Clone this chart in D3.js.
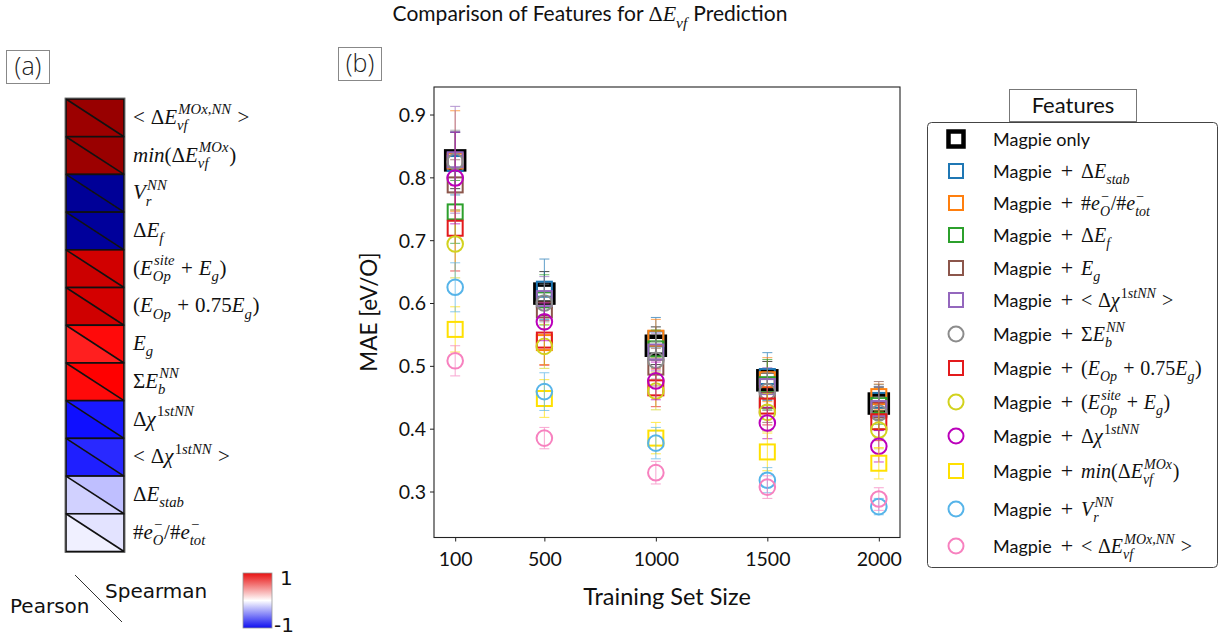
<!DOCTYPE html>
<html>
<head>
<meta charset="utf-8">
<script src="https://cdn.jsdelivr.net/npm/d3@7"></script>
<style>
  html, body { margin: 0; padding: 0; background: #fff; }
  svg text { white-space: pre; }
</style>
</head>
<body>
<svg id="fig" width="1223" height="637"></svg>
<script>
// ---------- data ----------
const trainSizes = [100, 500, 1000, 1500, 2000];

// mean absolute error per training-set size, and its spread (one std)
const maeMagpie    = [0.827, 0.615, 0.532, 0.477, 0.440];
const sdMagpie     = [0.045, 0.035, 0.030, 0.030, 0.025];
const maeStab      = [0.822, 0.622, 0.543, 0.483, 0.445];
const sdStab       = [0.050, 0.048, 0.034, 0.038, 0.025];
const maeEratio    = [0.826, 0.537, 0.544, 0.478, 0.451];
const sdEratio     = [0.080, 0.035, 0.030, 0.035, 0.020];
const maeEf        = [0.745, 0.605, 0.527, 0.470, 0.437];
const sdEf         = [0.050, 0.040, 0.030, 0.040, 0.030];
const maeEg        = [0.788, 0.589, 0.498, 0.445, 0.430];
const sdEg         = [0.040, 0.030, 0.030, 0.035, 0.045];
const maeChiMean   = [0.828, 0.607, 0.522, 0.467, 0.432];
const sdChiMean    = [0.085, 0.035, 0.030, 0.030, 0.035];
const maeEbSum     = [0.825, 0.600, 0.509, 0.459, 0.425];
const sdEbSum      = [0.050, 0.030, 0.030, 0.030, 0.025];
const maeEopLin    = [0.719, 0.541, 0.465, 0.436, 0.411];
const sdEopLin     = [0.068, 0.040, 0.030, 0.030, 0.030];
const maeEopSite   = [0.694, 0.531, 0.460, 0.426, 0.398];
const sdEopSite    = [0.054, 0.035, 0.030, 0.030, 0.030];
const maeChi       = [0.799, 0.570, 0.476, 0.409, 0.372];
const sdChi        = [0.073, 0.030, 0.030, 0.025, 0.025];
const maeMinEvf    = [0.558, 0.448, 0.385, 0.363, 0.345];
const sdMinEvf     = [0.036, 0.030, 0.025, 0.030, 0.025];
const maeVr        = [0.625, 0.459, 0.377, 0.318, 0.276];
const sdVr         = [0.039, 0.030, 0.025, 0.020, 0.013];
const maeEvfNN     = [0.508, 0.385, 0.330, 0.307, 0.288];
const sdEvfNN      = [0.024, 0.017, 0.018, 0.018, 0.018];

const seriesLabels = [
  null, "ΔE_{stab}", "#e_{O}^{−}/#e_{tot}^{−}", "ΔE_{f}", "E_{g}", "< Δχ^{1stNN} >",
  "ΣE_{b}^{NN}", "(E_{Op} + 0.75E_{g})", "(E_{Op}^{site} + E_{g})", "Δχ^{1stNN}",
  "min(ΔE_{vf}^{MOx})", "V_{r}^{NN}", "< ΔE_{vf}^{MOx,NN} >"
];
const seriesColors = ["#000000", "#1f77b4", "#ff7f0e", "#2ca02c", "#8c564b", "#9467bd",
  "#8c8c8c", "#e31a1c", "#d2d21e", "#bb00bb", "#ffe000", "#56b4e9", "#f781bf"];
const seriesShapes = ["square", "square", "square", "square", "square", "square",
  "circle", "square", "circle", "circle", "square", "circle", "circle"];

// correlation of each feature with the vacancy formation energy
const corrFeatures = [
  "< ΔE_{vf}^{MOx,NN} >", "min(ΔE_{vf}^{MOx})", "V_{r}^{NN}", "ΔE_{f}",
  "(E_{Op}^{site} + E_{g})", "(E_{Op} + 0.75E_{g})", "E_{g}", "ΣE_{b}^{NN}",
  "Δχ^{1stNN}", "< Δχ^{1stNN} >", "ΔE_{stab}", "#e_{O}^{−}/#e_{tot}^{−}"
];
const pearsonR  = [0.89, 0.89, -0.79, -0.78, 0.70, 0.69, 0.44, 0.48, -0.47, -0.44, -0.09, -0.03];
const spearmanR = [0.905, 0.90, -0.79, -0.78, 0.68, 0.67, 0.48, 0.50, -0.45, -0.42, -0.125, -0.055];
const colorbarTicks = ["1", "-1"];

const xTicks = [100, 500, 1000, 1500, 2000];
const yTicks = [0.3, 0.4, 0.5, 0.6, 0.7, 0.8, 0.9];

// ---------- fonts & text helpers ----------
const SANS = "Lato, 'DejaVu Sans', sans-serif";
const SERIF = "'Liberation Serif', 'DejaVu Serif', serif";
const svg = d3.select("#fig");

function putText(g, str, x, y, size, family, style) {
  const t = g.append("text").attr("x", x).attr("y", y)
    .attr("font-family", family).attr("font-size", size)
    .attr("font-style", style || "normal").attr("fill", "#111")
    .attr("xml:space", "preserve").text(str);
  return x + t.node().getComputedTextLength();
}

// tiny math renderer: italic latin/greek-lowercase letters, _{} and ^{} scripts
function parseMath(str) {
  const items = [];
  let i = 0;
  const readArg = () => {
    if (str[i] === "{") {
      let depth = 1, j = i + 1;
      while (j < str.length && depth > 0) { if (str[j] === "{") depth++; if (str[j] === "}") depth--; j++; }
      const a = str.slice(i + 1, j - 1); i = j; return a;
    }
    const a = str[i]; i++; return a;
  };
  while (i < str.length) {
    const ch = str[i];
    if (ch === "_" || ch === "^") {
      i++;
      const arg = readArg();
      let last = items[items.length - 1];
      const key = ch === "_" ? "sub" : "sup";
      if (!last || last.kind !== "script" || last[key] != null) { last = { kind: "script", sub: null, sup: null }; items.push(last); }
      last[key] = arg;
    } else { items.push({ kind: "char", ch }); i++; }
  }
  return items;
}
function isItalic(ch) { return /[A-Za-z\u03b1-\u03c9]/.test(ch); }
function runChars(g, str, x, y, size) {
  for (const ch of str) {
    if (ch === " ") { x += size * 0.28; continue; }
    x = putText(g, ch, x, y, size, SERIF, isItalic(ch) ? "italic" : "normal");
  }
  return x;
}
function drawMath(g, str, x, y, size) {
  const items = parseMath(str);
  let prevItalic = false;
  for (const it of items) {
    if (it.kind === "char") {
      x = runChars(g, it.ch, x, y, size);
      prevItalic = isItalic(it.ch);
    } else {
      const s = size * 0.7;
      let w = 0;
      if (it.sub != null) w = Math.max(w, runChars(g, it.sub, x, y + size * 0.3, s) - x);
      if (it.sup != null) {
        const sx = x + (prevItalic ? size * 0.06 : 0);
        w = Math.max(w, runChars(g, it.sup, sx, y - size * 0.45, s) - x);
      }
      x += w + size * 0.03;
    }
  }
  return x;
}
function richText(parent, parts, x, y, size, mathSize, anchor) {
  const g = parent.append("g");
  let cx = 0;
  parts.forEach(p => {
    if (p.sans != null) cx = putText(g, p.sans, cx, 0, size, SANS);
    else if (p.gap != null) cx += p.gap;
    else if (p.plus) cx = putText(g, "+", cx, 0, mathSize * 1.1, SERIF);
    else cx = drawMath(g, p.math, cx, 0, mathSize);
  });
  const ox = anchor === "middle" ? x - cx / 2 : x;
  g.attr("transform", `translate(${ox},${y})`);
  return g;
}

// ---------- title ----------
richText(svg, [{ sans: "Comparison of Features for " }, { math: "ΔE_{vf}" }, { sans: " Prediction" }],
  590, 21, 21, 22, "middle");

// ---------- panel labels ----------
function panelTag(x, y, w, h, label) {
  svg.append("rect").attr("x", x).attr("y", y).attr("width", w).attr("height", h)
    .attr("fill", "#fff").attr("stroke", "#888").attr("stroke-width", 1);
  svg.append("text").attr("x", x + w / 2).attr("y", y + h / 2 + 8)
    .attr("text-anchor", "middle").attr("font-family", "'Open Sans', sans-serif")
    .attr("font-weight", 300).attr("font-size", 25).attr("fill", "#222").text(label);
}
panelTag(6.5, 50.5, 43, 33, "(a)");
panelTag(338.5, 47.5, 43, 33, "(b)");

// ---------- panel (a): correlation column ----------
const seismic = d3.scaleLinear().domain([-1, -0.5, 0, 0.5, 1])
  .range(["#00004c", "#0000ff", "#ffffff", "#ff0000", "#800000"]);
const rowBand = d3.scaleBand().domain(d3.range(corrFeatures.length)).range([99, 551.5]);
const cx0 = 66, cx1 = 124;
const heat = svg.append("g");
corrFeatures.forEach((f, i) => {
  const y0 = rowBand(i), y1 = y0 + rowBand.bandwidth();
  heat.append("path").attr("d", `M${cx0},${y0}L${cx0},${y1}L${cx1},${y1}Z`).attr("fill", seismic(pearsonR[i]));
  heat.append("path").attr("d", `M${cx0},${y0}L${cx1},${y0}L${cx1},${y1}Z`).attr("fill", seismic(spearmanR[i]));
  heat.append("rect").attr("x", cx0).attr("y", y0).attr("width", cx1 - cx0).attr("height", y1 - y0)
    .attr("fill", "none").attr("stroke", "#111").attr("stroke-width", 1.6);
  heat.append("line").attr("x1", cx0).attr("y1", y0).attr("x2", cx1).attr("y2", y1)
    .attr("stroke", "#111").attr("stroke-width", 1.6);
  const lg = heat.append("g");
  drawMath(lg, f, 0, 0, 21);
  lg.attr("transform", `translate(133,${(y0 + y1) / 2 + 6})`);
});
heat.append("rect").attr("x", cx0 - 1).attr("y", 98).attr("width", cx1 - cx0 + 2).attr("height", 554.5 - 98 - 2)
  .attr("fill", "none").attr("stroke", "#555").attr("stroke-width", 0.8);

// Pearson / Spearman key
svg.append("line").attr("x1", 75).attr("y1", 575).attr("x2", 122).attr("y2", 622)
  .attr("stroke", "#333").attr("stroke-width", 1);
svg.append("text").attr("x", 10).attr("y", 613).attr("font-family", "'DejaVu Sans', sans-serif")
  .attr("font-size", 20).attr("fill", "#111").text("Pearson");
svg.append("text").attr("x", 105).attr("y", 598).attr("font-family", "'DejaVu Sans', sans-serif")
  .attr("font-size", 20).attr("fill", "#111").text("Spearman");

// colorbar
const defs = svg.append("defs");
const grad = defs.append("linearGradient").attr("id", "cbar").attr("x1", 0).attr("y1", 0).attr("x2", 0).attr("y2", 1);
[[0, "#e81010"], [0.5, "#ffffff"], [1, "#1010f0"]].forEach(([o, c]) =>
  grad.append("stop").attr("offset", o).attr("stop-color", c));
svg.append("rect").attr("x", 243).attr("y", 573).attr("width", 29).attr("height", 55)
  .attr("fill", "url(#cbar)").attr("stroke", "#999").attr("stroke-width", 0.8);
svg.append("text").attr("x", 280).attr("y", 585).attr("font-family", "'DejaVu Sans', sans-serif")
  .attr("font-size", 20).attr("fill", "#111").text(colorbarTicks[0]);
svg.append("text").attr("x", 274).attr("y", 632).attr("font-family", "'DejaVu Sans', sans-serif")
  .attr("font-size", 20).attr("fill", "#111").text(colorbarTicks[1]);

// ---------- panel (b): learning curves ----------
const L = 434, R = 900, T = 87, B = 537.5;
const x = d3.scaleLinear().domain([5, 2095]).range([L, R]);
const y = d3.scaleLinear().domain([0.2268, 0.9438]).range([B, T]);

const plot = svg.append("g");
plot.append("rect").attr("x", L).attr("y", T).attr("width", R - L).attr("height", B - T)
  .attr("fill", "none").attr("stroke", "#222").attr("stroke-width", 1.1);

const xAxis = plot.append("g").attr("transform", `translate(0,${B})`)
  .call(d3.axisBottom(x).tickValues(xTicks).tickSize(4).tickPadding(6).tickFormat(d3.format("d")));
const yAxis = plot.append("g").attr("transform", `translate(${L},0)`)
  .call(d3.axisLeft(y).tickValues(yTicks).tickSize(4).tickPadding(4).tickFormat(d3.format(".1f")));
[xAxis, yAxis].forEach(a => {
  a.select(".domain").remove();
  a.selectAll("line").attr("stroke", "#222");
  a.selectAll("text").attr("font-family", SANS).attr("font-size", 19.5).attr("fill", "#111");
});
xAxis.selectAll("text").attr("dy", "0.95em");
yAxis.selectAll("text").attr("dy", "0.35em");

svg.append("text").attr("transform", `translate(377,312) rotate(-90)`).attr("text-anchor", "middle")
  .attr("font-family", SANS).attr("font-size", 22.5).attr("fill", "#111").text("MAE [eV/O]");
svg.append("text").attr("x", 667).attr("y", 605).attr("text-anchor", "middle")
  .attr("font-family", SANS).attr("font-size", 23.5).attr("fill", "#111").text("Training Set Size");

const means = [maeMagpie, maeStab, maeEratio, maeEf, maeEg, maeChiMean, maeEbSum,
  maeEopLin, maeEopSite, maeChi, maeMinEvf, maeVr, maeEvfNN];
const sds = [sdMagpie, sdStab, sdEratio, sdEf, sdEg, sdChiMean, sdEbSum,
  sdEopLin, sdEopSite, sdChi, sdMinEvf, sdVr, sdEvfNN];

function marker(g, shape, color, cx, cy, bold) {
  if (shape === "square") {
    const s = bold ? 18 : 15;
    g.append("rect").attr("x", cx - s / 2).attr("y", cy - s / 2).attr("width", s).attr("height", s)
      .attr("fill", "none").attr("stroke", color).attr("stroke-width", bold ? 4.5 : 2);
  } else {
    g.append("circle").attr("cx", cx).attr("cy", cy).attr("r", 7.8)
      .attr("fill", "none").attr("stroke", color).attr("stroke-width", 2);
  }
}

means.forEach((m, si) => {
  const g = plot.append("g");
  const col = seriesColors[si];
  trainSizes.forEach((n, k) => {
    const px = x(n), lo = y(m[k] - sds[si][k]), hi = y(m[k] + sds[si][k]);
    const eg = g.append("g").attr("stroke", col).attr("stroke-width", 1).attr("opacity", 0.7);
    eg.append("line").attr("x1", px).attr("x2", px).attr("y1", lo).attr("y2", hi);
    eg.append("line").attr("x1", px - 5).attr("x2", px + 5).attr("y1", lo).attr("y2", lo);
    eg.append("line").attr("x1", px - 5).attr("x2", px + 5).attr("y1", hi).attr("y2", hi);
  });
  trainSizes.forEach((n, k) => marker(g, seriesShapes[si], col, x(n), y(m[k]), si === 0));
});

// ---------- legend ----------
// row centres follow the height of each label (taller rows for stacked scripts)
const legendRowY = [139, 171, 203, 235, 268, 300, 334, 368, 402, 436, 471, 509, 546];
const leg = svg.append("g");
leg.append("rect").attr("x", 927.5).attr("y", 122.5).attr("width", 290).attr("height", 445)
  .attr("rx", 4).attr("fill", "#fff").attr("stroke", "#444").attr("stroke-width", 1);
leg.append("rect").attr("x", 1009.5).attr("y", 89.5).attr("width", 127).attr("height", 32)
  .attr("fill", "#fff").attr("stroke", "#777").attr("stroke-width", 1);
leg.append("text").attr("x", 1073).attr("y", 113).attr("text-anchor", "middle")
  .attr("font-family", SANS).attr("font-size", 22).attr("fill", "#111").text("Features");
seriesLabels.forEach((lab, i) => {
  const cy = legendRowY[i];
  const mg = leg.append("g");
  if (i === 0) {
    mg.append("rect").attr("x", 956 - 7.5).attr("y", cy - 7.5).attr("width", 15).attr("height", 15)
      .attr("fill", "none").attr("stroke", "#000").attr("stroke-width", 4.5);
  } else if (seriesShapes[i] === "square") {
    mg.append("rect").attr("x", 956 - 7).attr("y", cy - 7).attr("width", 14).attr("height", 14)
      .attr("fill", "none").attr("stroke", seriesColors[i]).attr("stroke-width", 2);
  } else {
    mg.append("circle").attr("cx", 956).attr("cy", cy).attr("r", 7.5)
      .attr("fill", "none").attr("stroke", seriesColors[i]).attr("stroke-width", 2);
  }
  const parts = lab == null ? [{ sans: "Magpie only" }]
    : [{ sans: "Magpie" }, { gap: 9 }, { plus: true }, { gap: 8 }, { math: lab }];
  richText(leg, parts, 993, cy + 6.5, 18, 20, "start");
});
</script>
</body>
</html>
